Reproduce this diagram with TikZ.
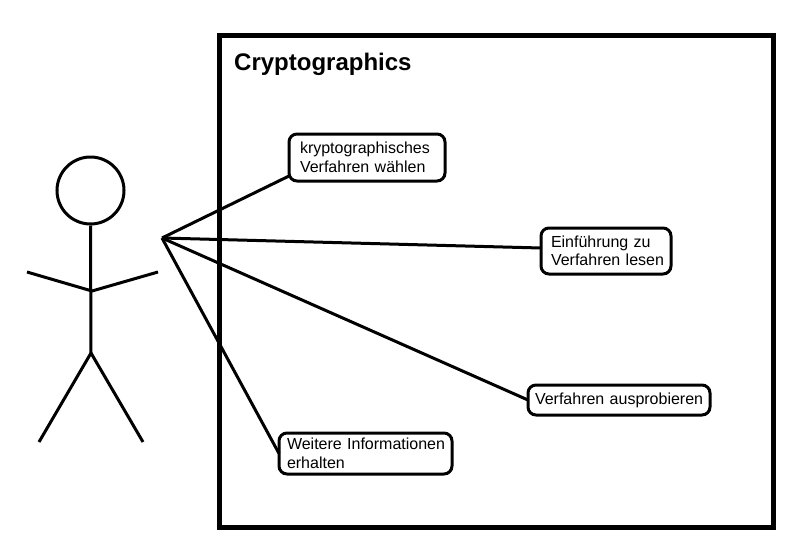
\documentclass[tikz,border=0pt]{standalone}
\usepackage{fontspec}
\setmainfont{Liberation Sans}
\usetikzlibrary{positioning}
\tikzset{
    case_node/.style={
        draw,
        line width=3pt,
        rounded corners=8pt,
        inner ysep=0pt,
        outer sep=0pt,
        align=left,
        anchor=west,
        font=\fontsize{16pt}{18.5pt}\selectfont
    },
    actor_line/.style={
        line width=3pt
    },
    case_edge/.style={
        line width=3pt
    }
}
\begin{document}
\begin{tikzpicture}[x=1pt,y=-1pt]
    \useasboundingbox (0,0) rectangle (808,554);
    % system boundary
    \node[draw, line width=5pt, minimum width=554pt, minimum height=492pt, inner sep=0pt] (system) at (496,281) {};
    \node[anchor=west, font=\bfseries\fontsize{24pt}{28pt}\selectfont, inner sep=0pt] (title) at (234,64) {Cryptographics};

    % actor
    \node[circle, draw, line width=3pt, minimum size=67pt, inner sep=0pt] (head) at (90.5,190.5) {};
    \coordinate (hip) at (91,353);
    \coordinate (chest) at (92,291);
    \coordinate (handL) at (27,272);
    \coordinate (handR) at (158,272);
    \coordinate (footL) at (39,442);
    \coordinate (footR) at (143,442);
    \coordinate (hub) at (162,238);
    \draw[actor_line] (head.south) -- (hip);
    \draw[actor_line] (handL) -- (chest) -- (handR);
    \draw[actor_line] (footL) -- (hip) -- (footR);

    % use cases
    \node[case_node, inner xsep=11pt, text width=134pt, minimum height=47pt] (choose) at (289,157.5) {\mbox{kryptographisches}\\\mbox{Verfahren wählen}};
    \node[case_node, inner xsep=10pt, text width=110pt, minimum height=46pt] (intro) at (541,251) {\mbox{Einführung zu}\\\mbox{Verfahren lesen}};
    \node[case_node, inner xsep=7pt, text width=168pt, minimum height=30pt] (try) at (528,400) {\mbox{Verfahren ausprobieren}};
    \node[case_node, inner xsep=8pt, text width=157pt, minimum height=41pt] (info) at (279,453.5) {\mbox{Weitere Informationen}\\\mbox{erhalten}};

    % connectors
    \draw[case_edge] (hub) -- (choose.west |- 0,176);
    \draw[case_edge] (hub) -- (intro.west |- 0,248);
    \draw[case_edge] (hub) -- (try.west);
    \draw[case_edge] (hub) -- (info.west);
\end{tikzpicture}
\end{document}
